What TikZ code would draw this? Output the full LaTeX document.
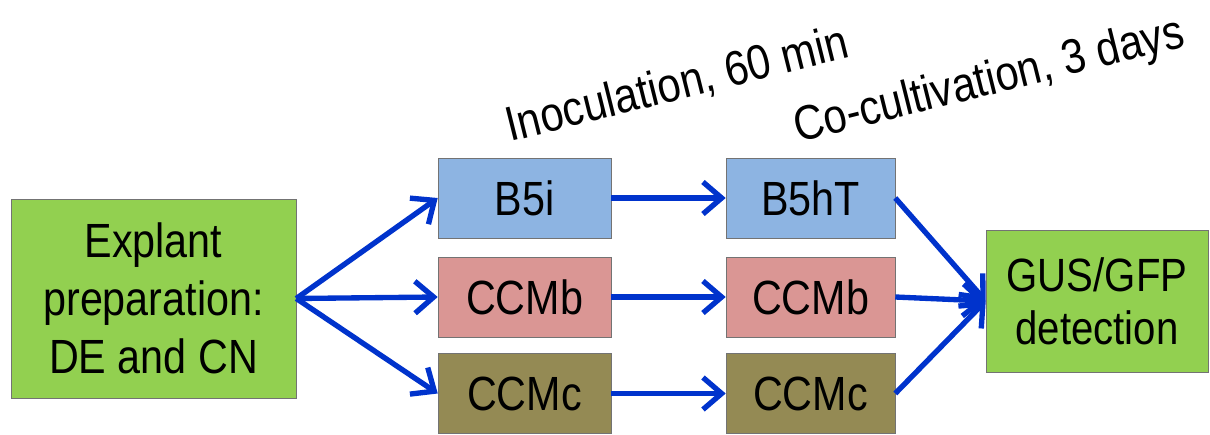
\documentclass[tikz,border=0pt]{standalone}
\usepackage{fontspec}
\setmainfont[FakeStretch=0.86]{Liberation Sans}
\usetikzlibrary{arrows.meta}

\definecolor{leafgreen}{RGB}{146,208,80}
\definecolor{skyblue}{RGB}{141,180,226}
\definecolor{rosepink}{RGB}{218,150,148}
\definecolor{olivebox}{RGB}{148,138,84}
\definecolor{arrowblue}{RGB}{0,51,204}

\begin{document}
\begin{tikzpicture}[x=0.75pt, y=-0.75pt,
    box/.style={draw=black!55, thin, inner sep=0pt, align=center,
      font=\fontsize{36}{43.5}\selectfont},
    medium/.style={box, minimum height=60pt},
    flow/.style={draw=arrowblue, line width=4pt,
      -{Straight Barb[length=14pt, width=24pt]}},
    stage/.style={anchor=base west, rotate=14, inner sep=0pt,
      font=\fontsize{36.5}{40}\selectfont}]
    \useasboundingbox (0, 0) rectangle (1210, 435);

    % start and end
    \node[box, fill=leafgreen, minimum width=213.75pt, minimum height=149.25pt]
      (explant) at (153.5, 298.5) {Explant\\preparation:\\DE and CN};
    \node[box, fill=leafgreen, minimum width=166.5pt, minimum height=106.5pt,
      font=\fontsize{35}{40}\selectfont]
      (detect) at (1097, 301) {GUS/GFP\\detection};

    % inoculation media
    \node[medium, fill=skyblue, minimum width=129.75pt] (inocA) at (524.5, 198) {B5i};
    \node[medium, fill=rosepink, minimum width=129.75pt] (inocB) at (524.5, 297) {CCMb};
    \node[medium, fill=olivebox, minimum width=129.75pt] (inocC) at (524.5, 393.5) {CCMc};

    % co-cultivation media
    \node[medium, fill=skyblue, minimum width=126.75pt] (coA) at (810.5, 198) {B5hT};
    \node[medium, fill=rosepink, minimum width=126.75pt] (coB) at (810.5, 297) {CCMb};
    \node[medium, fill=olivebox, minimum width=126.75pt] (coC) at (810.5, 393.5) {CCMc};

    % stage labels
    \node[stage] (inoclabel) at (510, 142) {Inoculation, 60 min};
    \node[stage] (colabel) at (798, 143) {Co-cultivation, 3 days};

    % arrows
    \draw[flow] (explant.east) -- (inocA.west);
    \draw[flow] (explant.east) -- (inocB.west);
    \draw[flow] (explant.east) -- (inocC.west);
    \draw[flow] (inocA) -- (coA);
    \draw[flow] (inocB) -- (coB);
    \draw[flow] (inocC) -- (coC);
    \draw[flow] (coA.east) -- (detect.west);
    \draw[flow] (coB.east) -- (detect.west);
    \draw[flow] (coC.east) -- (detect.west);
  \end{tikzpicture}
\end{document}
